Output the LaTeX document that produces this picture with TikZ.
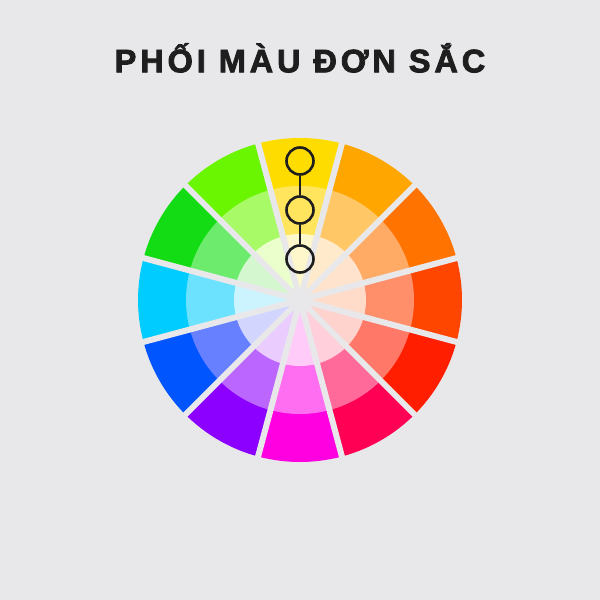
\documentclass[tikz,border=0pt]{standalone}
\usepackage{fontspec}
\setmainfont{Liberation Sans}
\usepackage{tikz}
\usetikzlibrary{calc}

\definecolor{bg}{HTML}{E8E8EA}
\definecolor{ink}{HTML}{1E1E1E}

\begin{document}
\begin{tikzpicture}[x=1pt,y=1pt]
    \fill[bg] (-300,-300) rectangle (300,300);
    \useasboundingbox (-300,-300) rectangle (300,300);

    % The title
    \node[anchor=base,inner sep=0pt,text=ink] (title) at (0,227.7)
      {\fontsize{32.5}{33}\selectfont\bfseries\addfontfeatures{LetterSpace=12,FakeBold=2.5} PHỐI MÀU ĐƠN SẮC};

    % The wedges: angle / outer / middle / inner
    \foreach \a/\co/\cm/\ci in {
        90/FFDC00/FFE55E/FFF7CC,
        60/FFA600/FFC766/FFEBCC,
        30/FF7300/FFAB66/FFE3CC,
        0/FF4600/FF8E6B/FFDCCA,
        -30/FF1E00/FF7868/FFD3CD,
        -60/FF0055/FF6A9A/FFD0DC,
        -90/FF00E0/FF6EF0/FFCCF9,
        -120/8C00FF/BB66FF/EBCCFF,
        -150/0055FF/6680FF/D2D6FF,
        180/00CCFF/6CE2FF/CCF4FF,
        150/14DC14/6CEB6C/D5F7CF,
        120/6AF500/A8FA66/EBFFCC} {
      \definecolor{wo}{HTML}{\co}
      \definecolor{wm}{HTML}{\cm}
      \definecolor{wi}{HTML}{\ci}
      \fill[wo] (0,0) -- (\a-15:162) arc[start angle=\a-15, end angle=\a+15, radius=162] -- cycle;
      \fill[wm] (0,0) -- (\a-15:114) arc[start angle=\a-15, end angle=\a+15, radius=114] -- cycle;
      \fill[wi] (0,0) -- (\a-15:66) arc[start angle=\a-15, end angle=\a+15, radius=66] -- cycle;
    }

    % The gaps
    \foreach \a in {75,105,...,225}
      \draw[bg,line width=6pt] (\a:170) -- (\a+180:170);

    % The three tones
    \node[circle,draw=ink,line width=2.6pt,minimum size=27pt,inner sep=0pt] (m1) at (0,139) {};
    \node[circle,draw=ink,line width=2.6pt,minimum size=27pt,inner sep=0pt] (m2) at (0,90)  {};
    \node[circle,draw=ink,line width=2.6pt,minimum size=27pt,inner sep=0pt] (m3) at (0,41)  {};
    \draw[ink,line width=2.4pt] (m1) -- (m2);
    \draw[ink,line width=2.4pt] (m2) -- (m3);

\end{tikzpicture}
\end{document}
